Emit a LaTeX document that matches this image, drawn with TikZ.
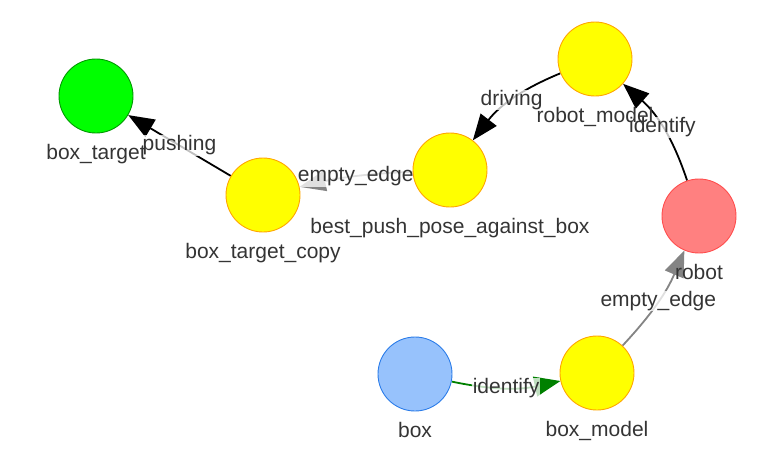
\documentclass[tikz,border=0pt]{standalone}
\usepackage{fontspec}
\setmainfont{Liberation Sans}
\usepackage{tikz}
\usepackage{xcolor}
\usetikzlibrary{arrows.meta}
\definecolor{txtgray}{HTML}{343434}
\definecolor{edgegray}{HTML}{848484}
\definecolor{edgegreen}{HTML}{008000}
\definecolor{yellowfill}{HTML}{FFFF00}
\definecolor{yellowdraw}{HTML}{FFA500}
\definecolor{greenfill}{HTML}{00FF00}
\definecolor{greendraw}{HTML}{009900}
\definecolor{redfill}{HTML}{FF8080}
\definecolor{reddraw}{HTML}{FF4D4D}
\definecolor{bluefill}{HTML}{97C2FC}
\definecolor{bluedraw}{HTML}{2B7CE9}
\pgfdeclarelayer{edges}
\pgfsetlayers{edges,main}
\tikzstyle{arrow} = [line width=1.8pt,-{Triangle[length=26pt,width=20pt]}]
\tikzstyle{obj}=[circle,minimum size=74pt,inner sep=0pt,line width=0.9pt]
\tikzstyle{model}=[obj,fill=yellowfill,draw=yellowdraw]
\tikzstyle{lbl}=[text=txtgray,inner sep=0pt]
\tikzstyle{elbl}=[text=txtgray,fill=white,fill opacity=0.75,text opacity=1,inner sep=0.5pt]

\begin{document}
\begin{tikzpicture}[x=1pt,y=-1pt,label distance=11pt,font=\fontsize{21}{25}\selectfont]
    \useasboundingbox (0,0) rectangle (762,456);
    \node[obj,fill=greenfill,draw=greendraw,label={[lbl]below:box\_target}] (boxtarget) at (96,96) {};
    \node[model,label={[lbl]below:box\_target\_copy}] (targetcopy) at (263,195) {};
    \node[model,label={[lbl]below:best\_push\_pose\_against\_box}] (pushpose) at (450,170) {};
    \node[model,label={[lbl]below:robot\_model}] (robotmodel) at (595,59) {};
    \node[obj,fill=redfill,draw=reddraw,label={[lbl]below:robot}] (robot) at (699,216) {};
    \node[obj,fill=bluefill,draw=bluedraw,label={[lbl]below:box}] (box) at (415,374) {};
    \node[model,label={[lbl]below:box\_model}] (boxmodel) at (597,373) {};

    \begin{pgfonlayer}{edges}
    \draw[arrow] (targetcopy) -- node[elbl] {pushing} (boxtarget);
    \draw[arrow,edgegray] (pushpose) to[bend right=5] node[elbl] {empty\_edge} (targetcopy);
    \draw[arrow] (robotmodel) to[bend right=15] node[elbl] {driving} (pushpose);
    \draw[arrow] (robot) to[bend right=15] node[elbl] {identify} (robotmodel);
    \draw[arrow,edgegray] (boxmodel) to[bend right=10] node[elbl] {empty\_edge} (robot);
    \draw[arrow,edgegreen] (box) to[bend right=12] node[elbl] {identify} (boxmodel);
    \end{pgfonlayer}
\end{tikzpicture}
\end{document}
